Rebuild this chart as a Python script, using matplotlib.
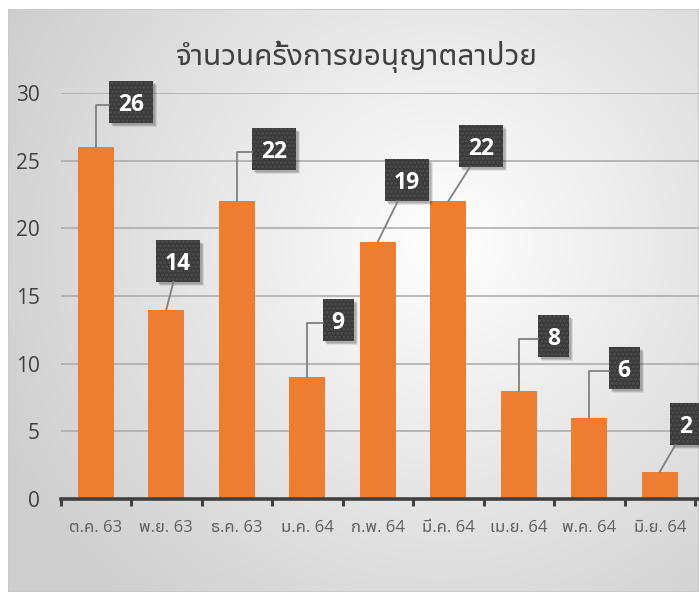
import numpy as np
import matplotlib
matplotlib.use("Agg")
import matplotlib.pyplot as plt
from matplotlib.patches import Rectangle
from matplotlib.transforms import IdentityTransform

# ข้อมูล
months = ['ต.ค. 63', 'พ.ย. 63', 'ธ.ค. 63', 'ม.ค. 64', 'ก.พ. 64', 'มี.ค. 64', 'เม.ย. 64', 'พ.ค. 64', 'มิ.ย. 64']
counts = [26, 14, 22, 9, 19, 22, 8, 6, 2]
title = 'จำนวนครั้งการขอนุญาตลาป่วย'

# ตำแหน่งป้ายกำกับ (pixels จากยอดแท่ง) และรูปแบบเส้นนำ
label_dx = [35, 12, 37, 31, 29, 33, 35, 35, 26]
label_dy = [45, 49, 52, 57, 62, 55, 55, 50, 48]
elbow = [True, False, True, True, False, False, True, True, False]

thai = ['Noto Sans Thai UI', 'Open Sans', 'DejaVu Sans']
plt.rcParams['hatch.linewidth'] = 1.5

W, H = 699, 592
fig = plt.figure(figsize=(W / 100, H / 100), dpi=100)
fig.patch.set_facecolor('white')

# พื้นหลังไล่เฉดแบบรัศมี
bg = fig.add_axes([8 / W, 0, 1 - 8 / W, 1 - 9 / H])
u, v = np.meshgrid(np.linspace(0, 1, 300), np.linspace(0, 1, 260))
d = np.sqrt((u - 0.63) ** 2 + ((v - 0.40) * 0.85) ** 2)
shade = np.clip(1.0 - 0.27 * d, 0.81, 1.0)
bg.imshow(np.dstack([shade] * 3), extent=[0, 1, 0, 1], aspect='auto', origin='upper')
bg.add_patch(Rectangle((0, 0), 1, 1, fill=False, ec='#c8c8c8', lw=1.2, transform=bg.transAxes))
bg.axis('off')

left, right, bottom, top = 60.5, W, 499, 93
ax = fig.add_axes([left / W, (H - bottom) / H, (right - left) / W, (bottom - top) / H])
ax.set_facecolor('none')
x = np.arange(len(months))
ax.bar(x, counts, width=0.51, color='#ED7D31', zorder=3)

ax.set_xlim(-0.5, -0.5 + (right - left) / 70.5)
ax.set_ylim(0, 30)
ax.set_yticks(range(0, 31, 5))
ax.grid(axis='y', color='#a8a8a8', lw=1.1, zorder=0)
for s in ['top', 'right', 'left']:
    ax.spines[s].set_visible(False)
ax.spines['bottom'].set_color('#404040')
ax.spines['bottom'].set_linewidth(2.6)
ax.spines['bottom'].set_zorder(4)

ax.set_xticks(x)
ax.set_xticklabels(months, family=thai, fontsize=12, color='#606060')
ax.set_xticks(np.arange(-0.5, len(months)), minor=True)
ax.tick_params(axis='x', which='major', length=0, pad=15)
ax.tick_params(axis='x', which='minor', length=5, width=2.2, color='#404040')
ax.tick_params(axis='y', length=0, pad=15, labelsize=15, labelcolor='#404040')
for t in ax.get_yticklabels():
    t.set_family(thai)

fig.text(357 / W, 1 - 57 / H, title, family=thai, fontsize=21.5, color='#404040',
         ha='center', va='center')

# ป้ายค่าข้อมูล: กล่องเข้มพร้อมเงา และเส้นนำ
for i, c in enumerate(counts):
    px, py = ax.transData.transform((x[i], c))
    cx, cy = px + label_dx[i], py + label_dy[i]
    bw, bh = 18 + 13 * len(str(c)), 42
    for off, a in [(2, 0.10), (3, 0.14), (4, 0.08)]:
        ax.add_patch(Rectangle((cx - bw / 2 + off, cy - bh / 2 - off), bw, bh, fc='black',
                               alpha=a, lw=0, transform=IdentityTransform(), zorder=5, clip_on=False))
    box = Rectangle((cx - bw / 2, cy - bh / 2), bw, bh, fc='#3a3a3a', ec='#4e4e4e', lw=0,
                    hatch='....', transform=IdentityTransform(), zorder=5.5, clip_on=False)
    ax.add_patch(box)
    cs = 'angle,angleA=0,angleB=90,rad=0' if elbow[i] else 'arc3'
    ax.annotate(str(c), xy=(x[i], c), xytext=(label_dx[i], label_dy[i]),
                textcoords='offset pixels', ha='center', va='center_baseline',
                family=['Open Sans', 'DejaVu Sans'], fontweight='bold',
                fontsize=16.5, color='white', zorder=6, annotation_clip=False,
                arrowprops=dict(arrowstyle='-', color='#808080', lw=1.3, patchA=box,
                                connectionstyle=cs, shrinkA=0, shrinkB=0))

fig.savefig('out.png', dpi=100)
